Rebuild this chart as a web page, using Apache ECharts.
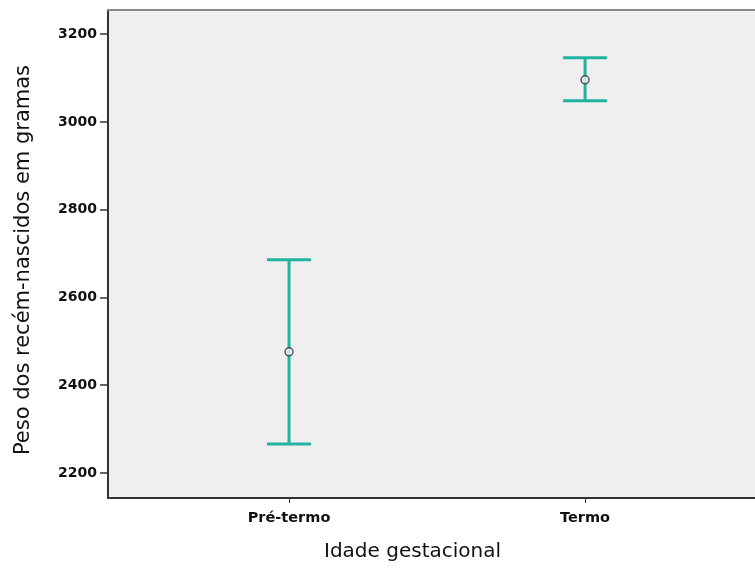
<!DOCTYPE html>
<html><head><meta charset="utf-8">
<script src="https://cdn.jsdelivr.net/npm/echarts@6/dist/echarts.min.js"></script>
<style>html,body{margin:0;padding:0;background:#fff}#c{width:755px;height:574px}</style>
</head><body><div id="c"></div>
<script>
const categories = ["Pré-termo", "Termo"];
const means = [2476, 3096];
const lower = [2266, 3048];
const upper = [2686, 3146];
const yTicks = [2200, 2400, 2600, 2800, 3000, 3200];
const xPos = [1, 2];

const chart = echarts.init(document.getElementById('c'));
const barData = categories.map((c, i) => [xPos[i], lower[i], upper[i]]);
const meanData = categories.map((c, i) => [xPos[i], means[i]]);
const teal = '#22b3a0';
const fontLab = 'DejaVu Sans';

chart.setOption({
  animation: false,
  grid: { left: 108, right: 0, top: 10, bottom: 76, show: true, backgroundColor: '#efefef', borderWidth: 0 },
  xAxis: [{
    type: 'value', min: 0.3885, max: 2.574,
    splitLine: { show: false },
    axisLine: { show: true, lineStyle: { color: '#333', width: 2 } },
    axisTick: { show: true, customValues: xPos, length: 5, lineStyle: { color: '#333', width: 1 } },
    axisLabel: { customValues: xPos, formatter: v => categories[xPos.indexOf(v)] || '', color: '#111', fontWeight: 'bold', fontSize: 14.5, fontFamily: fontLab, margin: 13 },
    name: 'Idade gestacional', nameLocation: 'middle', nameGap: 44,
    nameTextStyle: { fontSize: 20, color: '#111', fontFamily: fontLab, padding: [0, 38, 0, 0] }
  }, {
    type: 'value', min: 0.3885, max: 2.574, position: 'top',
    splitLine: { show: false },
    axisLine: { show: true, lineStyle: { color: '#888', width: 2 } },
    axisTick: { show: false }, axisLabel: { show: false }
  }],
  yAxis: {
    type: 'value', min: 2143, max: 3255,
    splitLine: { show: false },
    axisLine: { show: true, lineStyle: { color: '#333', width: 2 } },
    axisTick: { show: true, customValues: yTicks, length: 8, lineStyle: { color: '#333', width: 1.5 } },
    axisLabel: { customValues: yTicks, formatter: v => String(v), color: '#111', fontWeight: 'bold', fontSize: 14, fontFamily: fontLab, margin: 11 },
    name: 'Peso dos recém-nascidos em gramas', nameLocation: 'middle', nameGap: 74,
    nameTextStyle: { fontSize: 21, color: '#111', fontFamily: fontLab, padding: [0, 12, 0, 0] }
  },
  series: [{
    type: 'custom',
    data: barData,
    renderItem: (params, api) => {
      const x = api.value(0);
      const lo = api.coord([x, api.value(1)]);
      const hi = api.coord([x, api.value(2)]);
      const hw = 22;
      const style = { stroke: teal, lineWidth: 3 };
      return { type: 'group', children: [
        { type: 'line', shape: { x1: lo[0], y1: lo[1], x2: hi[0], y2: hi[1] }, style },
        { type: 'line', shape: { x1: lo[0] - hw, y1: lo[1], x2: lo[0] + hw, y2: lo[1] }, style },
        { type: 'line', shape: { x1: hi[0] - hw, y1: hi[1], x2: hi[0] + hw, y2: hi[1] }, style }
      ]};
    },
    z: 2
  }, {
    type: 'scatter',
    data: meanData,
    symbol: 'circle', symbolSize: 8,
    itemStyle: { color: '#efefef', borderColor: '#333', borderWidth: 1.5 },
    z: 3
  }]
});
</script></body></html>
